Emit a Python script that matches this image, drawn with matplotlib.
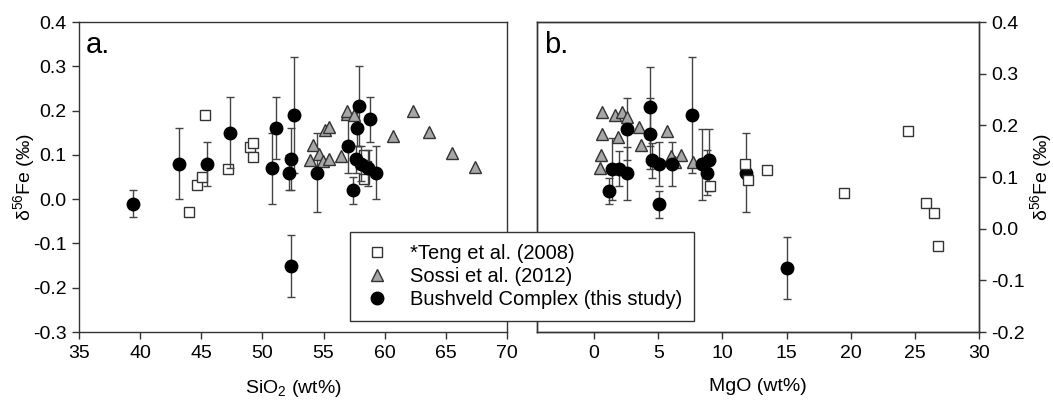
import numpy as np
import matplotlib
matplotlib.use('Agg')
import matplotlib.pyplot as plt
from matplotlib.lines import Line2D
from matplotlib.ticker import FormatStrFormatter

plt.rcParams['font.family'] = ['Liberation Sans', 'DejaVu Sans']
plt.rcParams['mathtext.fontset'] = 'custom'
plt.rcParams['mathtext.rm'] = 'Liberation Sans'
plt.rcParams['mathtext.default'] = 'regular'

## panel a: SiO2
teng_sio2 = [44.0, 44.67, 45.1, 45.33, 47.2, 48.98, 49.25, 49.25, 58.3, 58.5, 58.3]
teng_d_a = [-0.03, 0.031, 0.05, 0.19, 0.069, 0.118, 0.128, 0.095, 0.10, 0.075, 0.045]

sossi_sio2 = [54.1, 54.65, 53.9, 54.97, 55.47, 55.1, 55.47, 56.4, 56.9, 56.94, 57.5,
              60.65, 62.34, 63.65, 65.47, 67.38]
sossi_d_a = [0.123, 0.103, 0.088, 0.086, 0.09, 0.156, 0.164, 0.098, 0.192, 0.20, 0.19,
             0.142, 0.20, 0.151, 0.105, 0.073]

bush_sio2 = [39.44, 43.2, 45.44, 47.35, 50.78, 51.1, 52.15, 52.3, 52.58, 52.3,
             54.43, 57.0, 57.4, 57.76, 57.92, 57.65, 58.1, 58.6, 58.8, 59.3]
bush_d_a = [-0.01, 0.08, 0.08, 0.15, 0.07, 0.16, 0.06, 0.09, 0.19, -0.15,
            0.06, 0.12, 0.02, 0.16, 0.21, 0.09, 0.08, 0.07, 0.18, 0.06]
bush_err_a = [0.03, 0.08, 0.05, 0.08, 0.08, 0.07, 0.04, 0.07, 0.13, 0.07,
              0.09, 0.06, 0.03, 0.04, 0.09, 0.03, 0.04, 0.04, 0.05, 0.06]

## panel b: MgO
teng_mgo = [9.0, 11.76, 12.03, 13.5, 19.5, 24.5, 25.85, 26.5, 26.8]
teng_d_b = [0.03, 0.08, 0.043, 0.067, 0.013, 0.153, -0.008, -0.031, -0.105]

sossi_mgo = [0.45, 0.5, 0.58, 0.58, 1.61, 1.87, 2.16, 2.6, 3.5, 3.64, 5.7, 6.0, 6.3, 6.8, 7.7]
sossi_d_b = [0.07, 0.10, 0.196, 0.148, 0.189, 0.141, 0.198, 0.186, 0.162, 0.122,
             0.155, 0.098, 0.083, 0.10, 0.085]

bush_mgo = [1.19, 1.38, 1.97, 2.54, 2.54, 4.34, 4.34, 4.49, 5.09, 5.09, 6.06,
            7.6, 8.39, 8.78, 8.98, 11.83, 15.0]
bush_d_b = [0.018, 0.069, 0.069, 0.058, 0.158, 0.148, 0.209, 0.088, 0.079, -0.012, 0.079,
            0.19, 0.079, 0.06, 0.088, 0.06, -0.155]
bush_err_b = [0.03, 0.07, 0.04, 0.06, 0.07, 0.08, 0.09, 0.04, 0.05, 0.03, 0.05,
              0.13, 0.08, 0.05, 0.07, 0.09, 0.07]

labels = ['*Teng et al. (2008)', 'Sossi et al. (2012)', 'Bushveld Complex (this study)']

dark = '#333333'
fs = 14
ylab = r'$\delta^{56}$Fe (‰)'

fig = plt.figure(figsize=(10.53, 4.01), dpi=100)
axa = fig.add_axes([0.075, 0.172, 0.4065, 0.773])
axb = fig.add_axes([0.51, 0.172, 0.4197, 0.773])


def style(ax):
    for s in ax.spines.values():
        s.set_color(dark)
        s.set_linewidth(1.0)
    ax.tick_params(direction='out', length=5, width=1, color=dark,
                   labelsize=fs, pad=4)


def draw(ax, xt, yt, xs, ys, xb, yb, eb, teng_on_top=False):
    ax.errorbar(xb, yb, yerr=eb, fmt='none', ecolor='#444444', elinewidth=1,
                capsize=3, capthick=1, zorder=2)
    ax.plot(xt, yt, 's', ms=7, mfc='white', mec=dark, mew=1,
            zorder=5 if teng_on_top else 1)
    ax.plot(xs, ys, '^', ms=9, mfc='#a6a6a6', mec=dark, mew=1, zorder=3)
    ax.plot(xb, yb, 'o', ms=9, mfc='black', mec='black', zorder=4)


draw(axa, teng_sio2, teng_d_a, sossi_sio2, sossi_d_a, bush_sio2, bush_d_a, bush_err_a)
axa.set_xlim(35, 70)
axa.set_ylim(-0.3, 0.4)
axa.set_xticks(np.arange(35, 71, 5))
axa.set_yticks(np.arange(-0.3, 0.41, 0.1))
axa.yaxis.set_major_formatter(FormatStrFormatter('%.1f'))
axa.set_xlabel(r'SiO$_2$ (wt%)', fontsize=fs, labelpad=12)
axa.set_ylabel(ylab, fontsize=fs, labelpad=-3)
style(axa)
axa.text(0.016, 0.9, 'a.', transform=axa.transAxes, fontsize=21, va='baseline')

draw(axb, teng_mgo, teng_d_b, sossi_mgo, sossi_d_b, bush_mgo, bush_d_b, bush_err_b,
     teng_on_top=True)
axb.set_xlim(-4.45, 30)
axb.set_ylim(-0.3, 0.4)
axb.set_xticks(np.arange(0, 31, 5))
axb.set_yticks([])
axb.set_xlabel('MgO (wt%)', fontsize=fs, labelpad=12)
style(axb)
axb.text(0.016, 0.9, 'b.', transform=axb.transAxes, fontsize=21, va='baseline')

## the right hand scale of panel b runs -0.2 .. 0.4
axr = axb.twinx()
axr.set_ylim(-0.2, 0.4)
axr.set_yticks(np.arange(-0.2, 0.41, 0.1))
axr.yaxis.set_major_formatter(FormatStrFormatter('%.1f'))
axr.set_ylabel(ylab, fontsize=fs, rotation=90, labelpad=2)
style(axr)

handles = [
    Line2D([], [], ls='none', marker='s', ms=7, mfc='white', mec=dark, mew=1),
    Line2D([], [], ls='none', marker='^', ms=9, mfc='#a6a6a6', mec=dark, mew=1),
    Line2D([], [], ls='none', marker='o', ms=9, mfc='black', mec='black'),
]
leg = fig.legend(handles, labels, loc='upper left', bbox_to_anchor=(0.332, 0.4214),
                 fontsize=14.5, frameon=True, fancybox=False, framealpha=1,
                 edgecolor=dark, borderpad=0.6, handlelength=1.5,
                 handletextpad=0.9, labelspacing=0.2, borderaxespad=0)
leg.get_frame().set_linewidth(1.0)

fig.savefig('out.png', dpi=100)
